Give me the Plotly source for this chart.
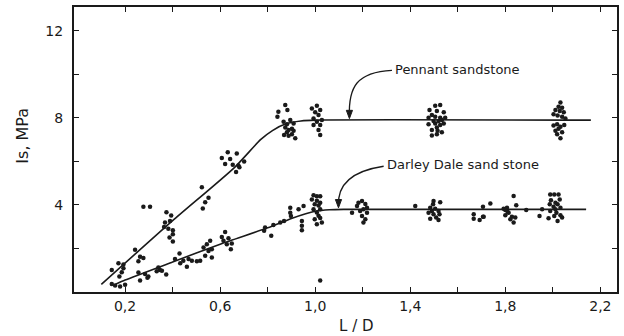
import plotly.graph_objects as go

# ---- data ----
pennant_x = [0.277, 0.305, 0.374, 0.394, 0.389, 0.368, 0.364, 0.382, 0.401, 0.401, 0.387, 0.401,
             0.242, 0.263, 0.277, 0.256, 0.172, 0.193, 0.144, 0.193, 0.186, 0.176,
             0.523, 0.551, 0.537, 0.527,
             0.607, 0.632, 0.670, 0.642, 0.621, 0.653, 0.677, 0.701, 0.681, 0.667,
             0.874, 0.883, 0.845, 0.841, 0.867, 0.881, 0.895, 0.909, 0.874, 0.888, 0.902, 0.881, 0.909, 0.869, 0.888, 0.916, 0.902,
             0.986, 1.007, 1.021, 1.000, 1.014, 0.993, 1.007, 1.021, 0.993, 1.014, 1.021, 1.028,
             1.505, 1.526, 1.481, 1.512, 1.541, 1.491, 1.477, 1.505, 1.526, 1.547, 1.498, 1.519, 1.533, 1.477, 1.505, 1.526, 1.541, 1.512, 1.491, 1.515, 1.533, 1.512, 1.491,
             2.032, 2.024, 2.039, 2.011, 2.029, 2.046, 2.003, 2.020, 2.039, 2.053, 2.018, 2.003, 2.032, 2.048, 2.024, 2.011, 2.039, 2.018, 2.032]
pennant_y = [3.92, 3.92, 3.67, 3.52, 3.26, 3.19, 2.99, 2.91, 2.84, 2.66, 2.50, 2.32,
             1.94, 1.62, 1.56, 1.41, 1.32, 1.26, 1.01, 1.09, 0.91, 0.71,
             4.82, 4.33, 4.13, 3.84,
             6.16, 6.42, 6.37, 6.11, 5.88, 5.85, 5.81, 6.00, 5.73, 5.52,
             8.59, 8.36, 8.29, 8.06, 7.83, 7.71, 7.91, 7.75, 7.56, 7.45, 7.50, 7.34, 7.41, 7.22, 7.18, 7.07, 7.25,
             8.44, 8.56, 8.37, 8.26, 8.14, 7.98, 7.83, 7.68, 7.68, 7.45, 7.22, 7.91,
             8.56, 8.59, 8.37, 8.32, 8.26, 8.14, 8.01, 8.06, 8.01, 8.01, 7.86, 7.86, 7.91, 7.71, 7.75, 7.68, 7.75, 7.56, 7.45, 7.41, 7.34, 7.25, 7.19,
             8.71, 8.52, 8.47, 8.37, 8.32, 8.26, 8.17, 8.11, 8.06, 7.98, 7.71, 7.65, 7.60, 7.68, 7.50, 7.41, 7.34, 7.25, 7.07]

darley_x = [0.144, 0.158, 0.179, 0.200, 0.256, 0.284, 0.263, 0.298, 0.294, 0.340, 0.347, 0.333, 0.355, 0.373,
            0.410, 0.429, 0.432, 0.445, 0.460, 0.467, 0.481, 0.502,
            0.621, 0.607, 0.614, 0.635, 0.628, 0.645, 0.649, 0.558, 0.530, 0.544, 0.565, 0.537, 0.516, 0.565, 0.551,
            0.789, 0.824, 0.853, 0.869, 0.815, 0.785,
            0.930, 0.951, 0.944, 0.944, 0.944, 0.898, 0.895, 0.895,
            0.993, 1.007, 1.021, 0.986, 1.007, 1.021, 0.998, 1.014, 0.993, 1.021, 1.007, 1.014, 0.998, 1.021, 1.007, 1.028,
            1.021,
            1.182, 1.197, 1.211, 1.176, 1.218, 1.203, 1.189, 1.218, 1.197, 1.211, 1.203, 1.155,
            1.421, 1.498, 1.526, 1.496, 1.484, 1.505, 1.491, 1.519, 1.477, 1.498, 1.523, 1.484, 1.509, 1.519,
            1.667, 1.667, 1.692, 1.706, 1.706, 1.709, 1.737,
            1.835, 1.846, 1.807, 1.793, 1.800, 1.810, 1.800, 1.828, 1.821, 1.842, 1.835, 1.814, 1.888,
            1.955, 1.944, 1.982,
            1.989, 2.006, 2.024, 1.992, 2.029, 2.011, 1.987, 2.020, 2.003, 2.032, 2.011, 1.989, 2.015, 2.032, 2.006, 2.020, 2.039]
darley_y = [0.37, 0.30, 0.25, 0.33, 0.90, 0.83, 0.53, 0.71, 0.65, 1.13, 1.01, 0.95, 0.98, 0.81,
            1.52, 1.77, 1.32, 1.44, 1.16, 1.52, 1.44, 1.41,
            2.76, 2.53, 2.35, 2.47, 2.20, 1.97, 2.23, 2.35, 2.04, 2.20, 1.97, 1.67, 1.44, 1.59, 1.89,
            2.96, 3.08, 3.19, 3.26, 2.59, 2.81,
            3.80, 3.95, 3.26, 3.04, 2.84, 3.49, 3.87, 3.64,
            4.45, 4.40, 4.40, 4.25, 4.20, 4.10, 4.03, 3.98, 3.80, 3.80, 3.65, 3.50, 3.34, 3.40, 3.11, 3.20,
            0.53,
            4.10, 4.18, 4.05, 3.95, 3.87, 3.80, 3.72, 3.64, 3.49, 3.34, 3.19, 3.64,
            3.95, 4.18, 4.13, 4.03, 3.87, 3.83, 3.72, 3.72, 3.64, 3.57, 3.57, 3.37, 3.42, 3.31,
            3.57, 3.37, 3.31, 3.46, 3.92, 3.46, 4.07,
            4.41, 3.99, 3.87, 3.83, 3.77, 3.68, 3.53, 3.46, 3.34, 3.42, 3.19, 3.64, 3.77,
            3.80, 3.49, 3.39,
            4.48, 4.48, 4.48, 4.22, 4.25, 4.10, 4.03, 4.03, 3.92, 3.87, 3.80, 3.72, 3.64, 3.53, 3.49, 3.26, 3.42]

# fitted curves (vertices)
pennant_fit_x = [0.10, 0.40, 0.66, 0.77, 0.82, 0.88, 0.94, 1.00, 2.16]
pennant_fit_y = [0.35, 3.28, 5.72, 7.00, 7.42, 7.74, 7.86, 7.90, 7.90]
darley_fit_x = [0.16, 0.20, 0.40, 0.60, 0.80, 0.90, 0.96, 1.00, 1.06, 1.12, 2.14]
darley_fit_y = [0.36, 0.55, 1.38, 2.20, 2.95, 3.38, 3.60, 3.71, 3.78, 3.80, 3.80]

tick_vals = [0.2, 0.4, 0.6, 0.8, 1.0, 1.2, 1.4, 1.6, 1.8, 2.0, 2.2]
tick_text = ["0,2", "", "0,6", "", "1,0", "", "1,4", "", "1,8", "", "2,2"]
ytick_vals = [2, 4, 6, 8, 10, 12]
ytick_text = ["", "4", "", "8", "", "12"]

FONT = "DejaVu Sans"
INK = "#1a1a1a"

fig = go.Figure()
fig.add_trace(go.Scatter(x=pennant_fit_x, y=pennant_fit_y, mode="lines",
                         line=dict(color=INK, width=1.6, shape="spline", smoothing=0.6),
                         showlegend=False, hoverinfo="skip"))
fig.add_trace(go.Scatter(x=darley_fit_x, y=darley_fit_y, mode="lines",
                         line=dict(color=INK, width=1.6, shape="spline", smoothing=0.6),
                         showlegend=False, hoverinfo="skip"))
fig.add_trace(go.Scatter(x=pennant_x, y=pennant_y, mode="markers",
                         marker=dict(color=INK, size=4.5), name="Pennant sandstone", showlegend=False))
fig.add_trace(go.Scatter(x=darley_x, y=darley_y, mode="markers",
                         marker=dict(color=INK, size=4.5), name="Darley Dale sand stone", showlegend=False))

# curved leader arrows
fig.add_shape(type="path", xref="x", yref="y",
              path="M 1.323,10.19 C 1.175,10.11 1.139,9.43 1.144,8.05",
              line=dict(color=INK, width=1.3))
fig.add_shape(type="path", xref="x", yref="y",
              path="M 1.131,8.35 L 1.157,8.35 L 1.144,7.97 Z",
              line=dict(color=INK, width=1), fillcolor=INK)
fig.add_shape(type="path", xref="x", yref="y",
              path="M 1.288,5.78 C 1.147,5.55 1.093,4.86 1.098,3.95",
              line=dict(color=INK, width=1.3))
fig.add_shape(type="path", xref="x", yref="y",
              path="M 1.085,4.25 L 1.111,4.25 L 1.098,3.87 Z",
              line=dict(color=INK, width=1), fillcolor=INK)

fig.add_annotation(x=1.328, y=10.25, xref="x", yref="y", text="Pennant sandstone",
                   showarrow=False, xanchor="left", yanchor="middle",
                   font=dict(family=FONT, size=13, color=INK))
fig.add_annotation(x=1.295, y=5.88, xref="x", yref="y", text="Darley Dale sand stone",
                   showarrow=False, xanchor="left", yanchor="middle",
                   font=dict(family=FONT, size=13, color=INK))
fig.add_annotation(x=0.52, y=-0.118, xref="paper", yref="paper", text="L / D",
                   showarrow=False, xanchor="center", yanchor="middle",
                   font=dict(family=FONT, size=15, color=INK))
fig.add_annotation(x=-0.095, y=0.55, xref="paper", yref="paper", text="Is, MPa",
                   showarrow=False, xanchor="center", yanchor="middle", textangle=-90,
                   font=dict(family=FONT, size=16, color=INK))

axis_common = dict(showline=True, linecolor=INK, linewidth=2, mirror="ticks",
                   ticks="inside", ticklen=5, tickwidth=1.4, tickcolor=INK,
                   showgrid=False, zeroline=False,
                   tickfont=dict(family=FONT, size=14, color=INK))
fig.update_xaxes(range=[-0.015, 2.27], tickvals=tick_vals, ticktext=tick_text, **axis_common)
fig.update_yaxes(range=[0, 13.1], tickvals=ytick_vals, ticktext=ytick_text,
                 ticklabelstandoff=6, **axis_common)

fig.update_layout(width=624, height=336, margin=dict(l=74, r=7, t=5, b=44),
                  paper_bgcolor="white", plot_bgcolor="white", showlegend=False)

fig.write_html("out.html")
